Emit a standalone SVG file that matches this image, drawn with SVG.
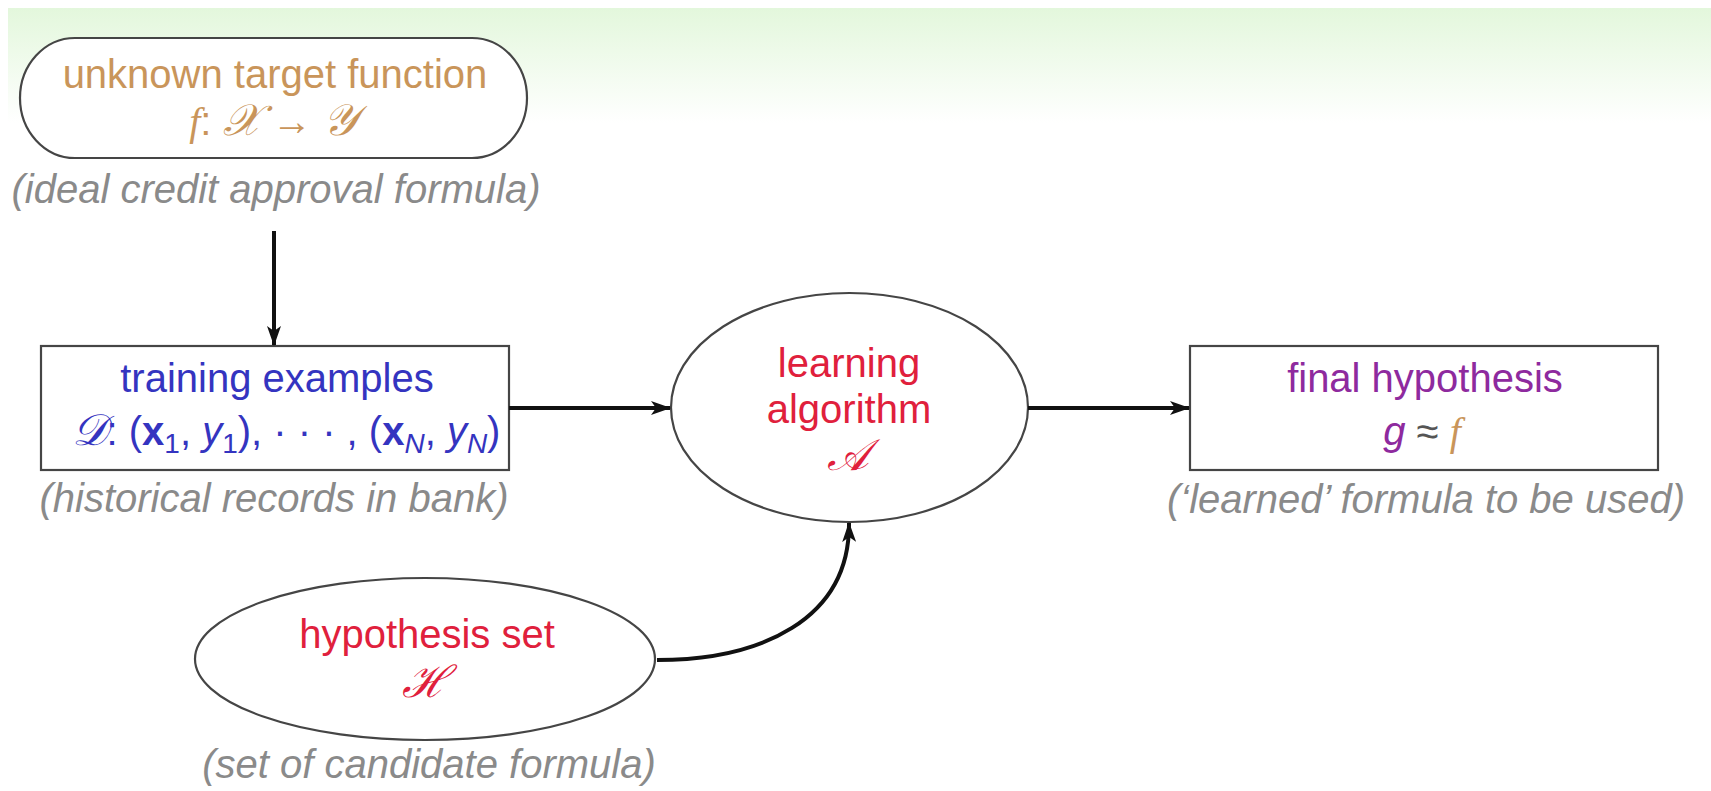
<svg xmlns="http://www.w3.org/2000/svg" width="1711" height="791" viewBox="0 0 1711 791">
<defs>
<linearGradient id="band" x1="0" y1="0" x2="0" y2="1">
<stop offset="0" stop-color="#e3f7dc"/>
<stop offset="1" stop-color="#ffffff"/>
</linearGradient>
<marker id="arr" viewBox="0 0 20 14" refX="19" refY="7" markerWidth="20" markerHeight="14" markerUnits="userSpaceOnUse" orient="auto">
<path d="M0,0 L20,7 L0,14 L5,7 z" fill="#111"/>
</marker>
<style>
.lbl{font-family:"Liberation Sans",Arial,sans-serif;font-size:40px;text-anchor:middle}
.note{font-family:"Liberation Sans",Arial,sans-serif;font-size:40px;font-style:italic;fill:#8a8a8a;text-anchor:middle}
.shape{fill:#fff;stroke:#454545;stroke-width:2.2}
.tan{fill:#c9955a}
.blue{fill:#3434c0}
.red{fill:#e0203c}
.purple{fill:#8e2a9e}
.cal{font-family:"DejaVu Serif","Liberation Serif",serif;font-style:italic;font-size:44px}
.sf{font-family:"Liberation Serif",serif;font-style:italic}
.conn{fill:none;stroke:#111;stroke-width:4}
</style>
</defs>
<rect x="0" y="0" width="1711" height="791" fill="#fff"/>
<rect x="8" y="8" width="1703" height="115" fill="url(#band)"/>

<g id="target">
<rect class="shape" x="20" y="38" width="507" height="120" rx="55" ry="60"/>
<text class="lbl tan" x="275" y="88">unknown target function</text>
<text class="lbl tan" x="273" y="135"><tspan class="sf">f</tspan>: <tspan class="cal">𝒳</tspan> → <tspan class="cal">𝒴</tspan></text>
<text class="note" x="276" y="203">(ideal credit approval formula)</text>
</g>

<g id="training">
<rect class="shape" x="41" y="346" width="468" height="124"/>
<text class="lbl blue" x="277" y="392">training examples</text>
<text class="lbl blue" x="286" y="445"><tspan class="cal">𝒟</tspan>: (<tspan font-weight="bold">x</tspan><tspan font-size="28" dy="8">1</tspan><tspan dy="-8">, </tspan><tspan font-style="italic">y</tspan><tspan font-size="28" dy="8">1</tspan><tspan dy="-8">), · · · , (</tspan><tspan font-weight="bold">x</tspan><tspan font-size="28" dy="8" font-style="italic">N</tspan><tspan dy="-8">, </tspan><tspan font-style="italic">y</tspan><tspan font-size="28" dy="8" font-style="italic">N</tspan><tspan dy="-8">)</tspan></text>
<text class="note" x="274" y="512">(historical records in bank)</text>
</g>

<g id="learning">
<ellipse class="shape" cx="849.5" cy="407.5" rx="178.5" ry="114.5"/>
<text class="lbl red" x="849" y="377">learning</text>
<text class="lbl red" x="849" y="423">algorithm</text>
<text class="lbl red cal" x="848" y="470">𝒜</text>
</g>

<g id="final">
<rect class="shape" x="1190" y="346" width="468" height="124"/>
<text class="lbl purple" x="1425" y="392">final hypothesis</text>
<text class="lbl" x="1422" y="445"><tspan class="purple" font-style="italic">g</tspan><tspan fill="#555"> ≈ </tspan><tspan class="tan sf">f</tspan></text>
<text class="note" x="1426" y="513">(‘learned’ formula to be used)</text>
</g>

<g id="hypothesis">
<ellipse class="shape" cx="425" cy="659" rx="230" ry="81"/>
<text class="lbl red" x="427" y="648">hypothesis set</text>
<text class="lbl red cal" x="425" y="697">ℋ</text>
<text class="note" x="429" y="778">(set of candidate formula)</text>
</g>

<g id="connectors">
<line class="conn" x1="274" y1="231" x2="274" y2="345" marker-end="url(#arr)"/>
<line class="conn" x1="509" y1="408" x2="670" y2="408" marker-end="url(#arr)"/>
<line class="conn" x1="1028" y1="408" x2="1189" y2="408" marker-end="url(#arr)"/>
<path class="conn" d="M657,660 C760,660 850,620 849,523" marker-end="url(#arr)"/>
</g>
</svg>
